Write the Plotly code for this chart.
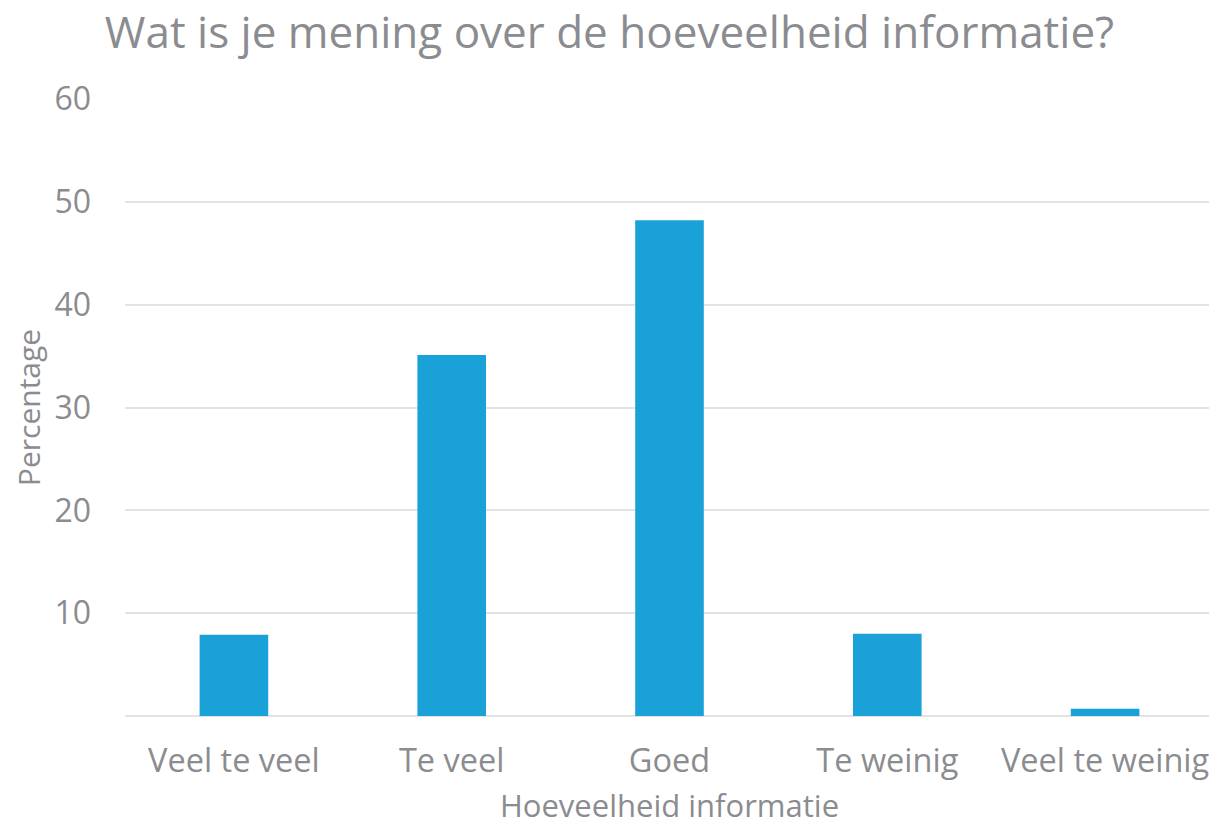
import plotly.graph_objects as go

GREY = "#8B8C90"
BLUE = "#1AA1D8"
GRID = "#E3E3E3"

categorieen = ["Veel te veel", "Te veel", "Goed", "Te weinig", "Veel te weinig"]
percentages = [7.9, 35.1, 48.2, 8.0, 0.7]
y_ticks = [10, 20, 30, 40, 50, 60]

fig = go.Figure(go.Bar(x=categorieen, y=percentages, marker=dict(color=BLUE, line=dict(width=0))))

# de pagina heeft 8px body-marge: figuur 8px kleiner zodat alles in het venster past
fig.update_layout(
    width=1209, height=821,
    paper_bgcolor="white", plot_bgcolor="white",
    font=dict(family="Open Sans", color=GREY),
    title=dict(text="Wat is je mening over de hoeveelheid informatie?",
               x=0.4975, xanchor="center", y=0.970, yanchor="middle",
               font=dict(size=44, color=GREY)),
    margin=dict(l=117, r=3, t=91, b=113),
    bargap=0.685,
    showlegend=False,
    xaxis=dict(title=dict(text="Hoeveelheid informatie", font=dict(size=31, color=GREY), standoff=14),
               tickfont=dict(size=32.5, color=GREY), showgrid=False, showline=False, ticks="",
               ticklabelstandoff=22, automargin=False),
    yaxis=dict(title=dict(text="Percentage", font=dict(size=30, color=GREY), standoff=16),
               range=[0, 60], tickvals=y_ticks, tickfont=dict(size=32, color=GREY),
               gridcolor=GRID, gridwidth=2, zeroline=True, zerolinecolor=GRID, zerolinewidth=2,
               showline=False, ticks="", ticklabelstandoff=33, automargin=False),
)

fig.write_html("out.html")
